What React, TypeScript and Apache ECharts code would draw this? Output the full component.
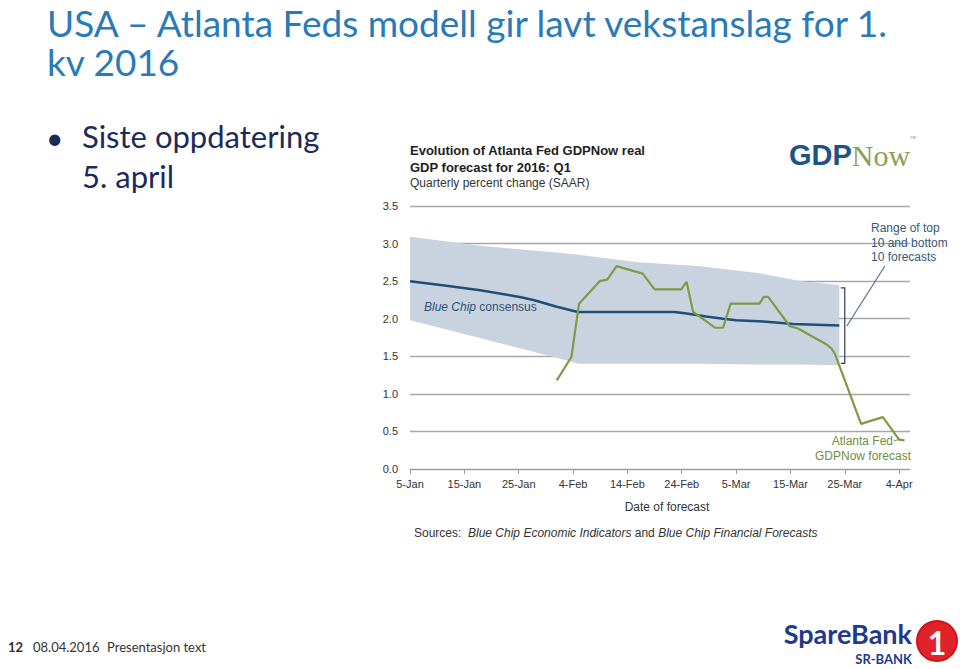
import React, { useEffect, useRef } from "react";
import * as echarts from "echarts";

// ---- data (days counted from 5-Jan-2016) ----
const xTickDays = [0, 10, 20, 30, 40, 50, 60, 70, 80, 90];
const monthNames = ["Jan", "Feb", "Mar", "Apr", "May", "Jun", "Jul", "Aug", "Sep", "Oct", "Nov", "Dec"];

const gdpNowDays = [27, 29.7, 31.1, 32.5, 34.9, 36.3, 38.0, 42.8, 45.0, 49.9, 50.9, 52.1, 56.1, 57.6, 59.0, 64.3, 65.1, 65.9, 69.9, 71.4, 74.1, 76.6, 77.6, 78.2, 83.0, 87.0, 90.0, 91.0];
const gdpNowValues = [1.18, 1.49, 2.2, 2.31, 2.5, 2.52, 2.7, 2.6, 2.39, 2.39, 2.49, 2.09, 1.88, 1.88, 2.2, 2.2, 2.29, 2.29, 1.9, 1.87, 1.76, 1.66, 1.6, 1.53, 0.6, 0.69, 0.39, 0.38];

const consensusDays = [0, 6.7, 12.9, 20.2, 22.7, 27, 30.9, 48.7, 50.9, 54.5, 57.6, 60, 65.6, 70.5, 79];
const consensusValues = [2.5, 2.44, 2.38, 2.29, 2.25, 2.16, 2.09, 2.09, 2.07, 2.03, 2.0, 1.98, 1.96, 1.93, 1.91];

const bandDays = [0, 13, 27, 31, 42, 53, 64, 72, 79];
const bandUpper = [3.09, 2.97, 2.88, 2.85, 2.75, 2.7, 2.61, 2.5, 2.45];
const bandLower = [1.98, 1.74, 1.48, 1.4, 1.4, 1.4, 1.39, 1.39, 1.38];

const bracketDay = 80;
const yTickValues = [0, 0.5, 1, 1.5, 2, 2.5, 3, 3.5];

function dayLabel(d: number): string {
  const dt = new Date(Date.UTC(2016, 0, 5 + d));
  return dt.getUTCDate() + "-" + monthNames[dt.getUTCMonth()];
}

const AR = "'Liberation Sans', Arial, sans-serif";
const CAL = "Lato, 'Open Sans', sans-serif";

export default function App() {
  const ref = useRef<HTMLDivElement>(null);
  useEffect(() => {
    if (!ref.current) return;
    const chart = echarts.init(ref.current, undefined, { renderer: "svg" });
    const txt = (
      text: string,
      x: number,
      y: number,
      font: string,
      fill: string,
      align = "left",
      lineHeight?: number
    ) => ({
      type: "text",
      z: 100,
      style: { text, x, y, font, fill, textAlign: align, textVerticalAlign: "middle", lineHeight },
    });
    const option: any = {
      animation: false,
      backgroundColor: "#ffffff",
      grid: { left: 410, right: 50, top: 206, bottom: 200, containLabel: false },
      xAxis: {
        type: "value",
        min: 0,
        max: 92,
        interval: 10,
        axisLine: { lineStyle: { color: "#9a9a9a", width: 1 } },
        axisTick: { show: true, length: 5, lineStyle: { color: "#9a9a9a" }, customValues: xTickDays },
        axisLabel: {
          customValues: xTickDays,
          formatter: (v: number) => dayLabel(v),
          color: "#333",
          fontSize: 11,
          fontFamily: AR,
          margin: 9,
        },
        splitLine: { show: false },
      },
      yAxis: {
        type: "value",
        min: 0,
        max: 3.5,
        interval: 0.5,
        axisLine: { show: false },
        axisTick: { show: false },
        axisLabel: {
          formatter: (v: number) => (yTickValues.indexOf(v) >= 0 ? v.toFixed(1) : ""),
          color: "#333",
          fontSize: 11,
          fontFamily: AR,
          margin: 12,
        },
        splitLine: { lineStyle: { color: "#a8a8a8", width: 1.3 } },
      },
      series: [
        {
          type: "custom",
          name: "Range of top 10 and bottom 10 forecasts",
          data: bandDays.map((d, i) => [d, bandLower[i], bandUpper[i]]),
          encode: { x: 0, y: [1, 2] },
          silent: true,
          z: 1,
          renderItem: (params: any, api: any) => {
            if (params.dataIndex !== 0) return null;
            const n = params.dataInsideLength;
            const top: number[][] = [];
            const bottom: number[][] = [];
            for (let i = 0; i < n; i++) {
              const d = api.value(0, i);
              top.push(api.coord([d, api.value(2, i)]));
              bottom.push(api.coord([d, api.value(1, i)]));
            }
            return {
              type: "polygon",
              shape: { points: top.concat(bottom.reverse()) },
              style: { fill: "#c9d3df" },
            };
          },
        },
        {
          type: "line",
          name: "Blue Chip consensus",
          data: consensusDays.map((d, i) => [d, consensusValues[i]]),
          symbol: "none",
          lineStyle: { color: "#1f4e79", width: 2.5 },
          z: 4,
        },
        {
          type: "line",
          name: "Atlanta Fed GDPNow forecast",
          data: gdpNowDays.map((d, i) => [d, gdpNowValues[i]]),
          symbol: "none",
          lineStyle: { color: "#7f9a45", width: 2.2 },
          z: 5,
        },
        {
          type: "custom",
          name: "range bracket",
          data: [[bracketDay, bandLower[bandLower.length - 1], bandUpper[bandUpper.length - 1]]],
          silent: true,
          z: 6,
          renderItem: (params: any, api: any) => {
            const d = api.value(0);
            const lo = api.coord([d, api.value(1)]);
            const hi = api.coord([d, api.value(2)]);
            const mid = (lo[1] + hi[1]) / 2;
            const ls = { stroke: "#2f3f55", lineWidth: 1.2, fill: "none" };
            return {
              type: "group",
              children: [
                {
                  type: "polyline",
                  shape: { points: [[lo[0] - 4, hi[1] + 3], [lo[0], hi[1] + 3], [lo[0], lo[1] - 2], [lo[0] - 4, lo[1] - 2]] },
                  style: ls,
                },
                {
                  type: "line",
                  shape: { x1: lo[0] + 2, y1: mid + 1, x2: lo[0] + 40, y2: mid - 59 },
                  style: { stroke: "#5b7894", lineWidth: 1.1 },
                },
              ],
            };
          },
        },
      ],
      graphic: [
        txt("USA – Atlanta Feds modell gir lavt vekstanslag for 1.\nkv 2016", 47, 41.5, `normal 37px ${CAL}`, "#2a7ab7", "left", 39),
        txt("•", 46, 137, `normal 30px ${CAL}`, "#1c2a5a", "left", 30),
        txt("Siste oppdatering\n5. april", 82, 156, `normal 31px ${CAL}`, "#1c2a5a", "left", 40),
        txt("Evolution of Atlanta Fed GDPNow real\nGDP forecast for 2016: Q1", 410, 158.5, `bold 13px ${AR}`, "#1e1e1e", "left", 17),
        txt("Quarterly percent change (SAAR)", 410, 183, `normal 12px ${AR}`, "#333", "left", 14),
        {
          type: "text",
          z: 100,
          style: {
            x: 789,
            y: 155,
            textVerticalAlign: "middle",
            text: "{a|GDP}{b|Now}",
            rich: {
              a: { font: `bold 29px ${AR}`, fill: "#1c5584", color: "#1c5584", lineHeight: 30 },
              b: { font: "normal 30px 'Liberation Serif', serif", fill: "#8a9f58", color: "#8a9f58", lineHeight: 30 },
            },
          },
        },
        txt("TM", 910, 137, `normal 4px ${AR}`, "#888", "left", 4),
        txt("Range of top\n10 and bottom\n10 forecasts", 871, 242.5, `normal 12px ${AR}`, "#35577a", "left", 14.5),
        {
          type: "text",
          z: 100,
          style: {
            x: 424,
            y: 307,
            textVerticalAlign: "middle",
            text: "{i|Blue Chip} {n|consensus}",
            rich: {
              i: { font: `italic 12px ${AR}`, fill: "#2d5278", color: "#2d5278" },
              n: { font: `normal 12px ${AR}`, fill: "#2d5278", color: "#2d5278" },
            },
          },
        },
        txt("Atlanta Fed", 893, 441, `normal 12px ${AR}`, "#6f8f3a", "right", 14),
        txt("GDPNow forecast", 911, 456, `normal 12px ${AR}`, "#6f8f3a", "right", 14),
        { type: "line", z: 100, shape: { x1: 894, y1: 441, x2: 900, y2: 439 }, style: { stroke: "#7f9a45", lineWidth: 1.2 } },
        txt("Date of forecast", 667, 507, `normal 12px ${AR}`, "#333", "center"),
        {
          type: "text",
          z: 100,
          style: {
            x: 414,
            y: 533,
            textVerticalAlign: "middle",
            text: "{n|Sources:  }{i|Blue Chip Economic Indicators}{n| and }{i|Blue Chip Financial Forecasts}",
            rich: {
              i: { font: `italic 12px ${AR}`, fill: "#333", color: "#333" },
              n: { font: `normal 12px ${AR}`, fill: "#333", color: "#333" },
            },
          },
        },
        txt("12", 8, 647, `bold 13px ${CAL}`, "#333"),
        txt("08.04.2016", 33, 647, `normal 13px ${CAL}`, "#333"),
        txt("Presentasjon text", 107, 647, `normal 13px ${CAL}`, "#333"),
        txt("SpareBank", 912, 633, `bold 27px ${CAL}`, "#1e3a8c", "right", 26),
        txt("SR-BANK", 912, 659, `bold 13px ${CAL}`, "#1e3a8c", "right", 13),
        { type: "circle", z: 100, shape: { cx: 937, cy: 641, r: 21 }, style: { fill: "#d4131b" } },
        { type: "circle", z: 100, shape: { cx: 937, cy: 641, r: 19 }, style: { fill: "#e0222a" } },
        txt("1", 937, 642, `bold 32px ${CAL}`, "#ffffff", "center", 32),
      ],
    };
    chart.setOption(option);
    return () => chart.dispose();
  }, []);
  return (
    <div
      ref={ref}
      style={{ position: "fixed", left: 0, top: 0, width: 960, height: 669, background: "#fff" }}
    />
  );
}
